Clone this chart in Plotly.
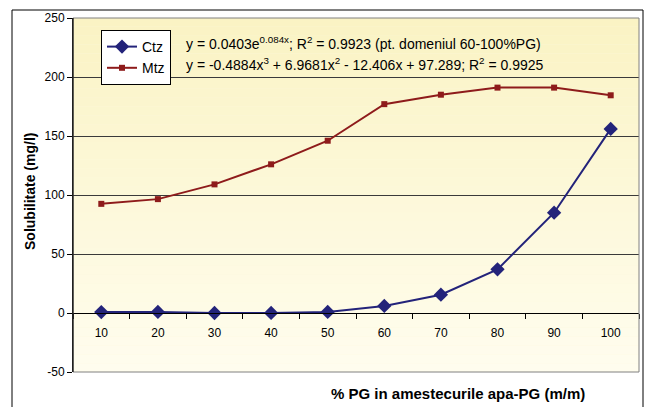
import plotly.graph_objects as go

categories = ["10", "20", "30", "40", "50", "60", "70", "80", "90", "100"]
ctz = [0.8, 0.9, 0.0, 0.1, 0.9, 6, 15.5, 37, 85, 156]
mtz = [92.5, 96.5, 109, 126, 146, 177, 185, 191, 191, 184.5]
y_ticks = [-50, 0, 50, 100, 150, 200, 250]
y_tick_text = ["-50", "0", "50", "100", "150", "200", "250"]
eq_ctz = "y = 0.0403e<sup>0.084x</sup>; R<sup>2</sup> = 0.9923 (pt. domeniul 60-100%PG)"
eq_mtz = "y = -0.4884x<sup>3</sup> + 6.9681x<sup>2</sup> - 12.406x + 97.289; R<sup>2</sup> = 0.9925"

W, H = 648, 407
L, R, T, B = 73, 9, 18, 35
pw, ph = W - L - R, H - T - B
ymin, ymax = -50, 250

def px(xp):
    return (xp - L) / pw

def py(yp):
    return (H - B - yp) / ph

font = "Liberation Sans, Arial, sans-serif"

fig = go.Figure()
fig.add_trace(go.Scatter(
    x=categories, y=ctz, name="Ctz", mode="lines+markers",
    line=dict(color="#23237A", width=2),
    marker=dict(symbol="diamond", size=11, color="#23237A"),
))
fig.add_trace(go.Scatter(
    x=categories, y=mtz, name="Mtz", mode="lines+markers",
    line=dict(color="#8E1B1B", width=2),
    marker=dict(symbol="square", size=6, color="#8E1B1B"),
))

shapes = []
# gradient background of plot area
n = 40
top_c = (250, 243, 196)
bot_c = (255, 253, 238)
for i in range(n):
    t = i / (n - 1)
    c = tuple(round(top_c[k] + (bot_c[k] - top_c[k]) * t) for k in range(3))
    shapes.append(dict(type="rect", xref="paper", yref="paper",
                       x0=0, x1=1, y0=1 - (i + 1) / n, y1=1 - i / n,
                       fillcolor="rgb(%d,%d,%d)" % c, line=dict(width=0),
                       layer="below"))
# plot area frame
shapes.append(dict(type="rect", xref="paper", yref="paper", x0=0, x1=1, y0=0, y1=1,
                   line=dict(color="#808080", width=1), layer="above"))
shapes.append(dict(type="line", xref="paper", yref="paper", x0=0, x1=0, y0=0, y1=1,
                   line=dict(color="black", width=1), layer="above"))
# outer chart border
shapes.append(dict(type="rect", xref="paper", yref="paper",
                   x0=px(12), x1=px(643), y0=py(412), y1=py(10),
                   line=dict(color="black", width=1), layer="above"))

fig.update_layout(
    width=W, height=H,
    margin=dict(l=L, r=R, t=T, b=B, pad=0),
    paper_bgcolor="white",
    plot_bgcolor="#FCF8DC",
    font=dict(family=font, size=12, color="black"),
    shapes=shapes,
    showlegend=True,
    legend=dict(
        x=px(101), y=py(30), xanchor="left", yanchor="top",
        bgcolor="white", bordercolor="black", borderwidth=1,
        font=dict(family=font, size=14, color="black"),
        tracegroupgap=0, itemwidth=30,
    ),
    xaxis=dict(
        type="category", tickson="boundaries", ticks="outside", ticklen=5,
        tickcolor="black", showline=True, linecolor="black", linewidth=1,
        showgrid=False, anchor="free",
        position=(0 - ymin) / (ymax - ymin),
        tickfont=dict(family=font, size=12),
        ticklabelstandoff=9,
        range=[-0.5, 9.5],
    ),
    yaxis=dict(
        range=[ymin, ymax], tickvals=y_ticks, ticktext=y_tick_text,
        ticks="outside", ticklen=5,
        tickcolor="black", showline=True, linecolor="black",
        showgrid=True, gridcolor="#3A3A3A", gridwidth=1,
        zeroline=False, tickfont=dict(family=font, size=12),
    ),
    annotations=[
        dict(text=eq_ctz, xref="paper", yref="paper", x=px(184), y=py(43),
             xanchor="left", yanchor="middle", showarrow=False,
             font=dict(family=font, size=14)),
        dict(text=eq_mtz, xref="paper", yref="paper", x=px(184), y=py(64),
             xanchor="left", yanchor="middle", showarrow=False,
             font=dict(family=font, size=14)),
        dict(text="<b>% PG in amestecurile apa-PG (m/m)</b>", xref="paper", yref="paper",
             x=px(458), y=py(393), xanchor="center", yanchor="middle",
             showarrow=False, font=dict(family=font, size=15)),
        dict(text="<b>Solubilitate (mg/l)</b>", xref="paper", yref="paper",
             x=px(30), y=py(192), xanchor="center", yanchor="middle",
             textangle=-90, showarrow=False, font=dict(family=font, size=14)),
    ],
)

fig.write_html("out.html")
